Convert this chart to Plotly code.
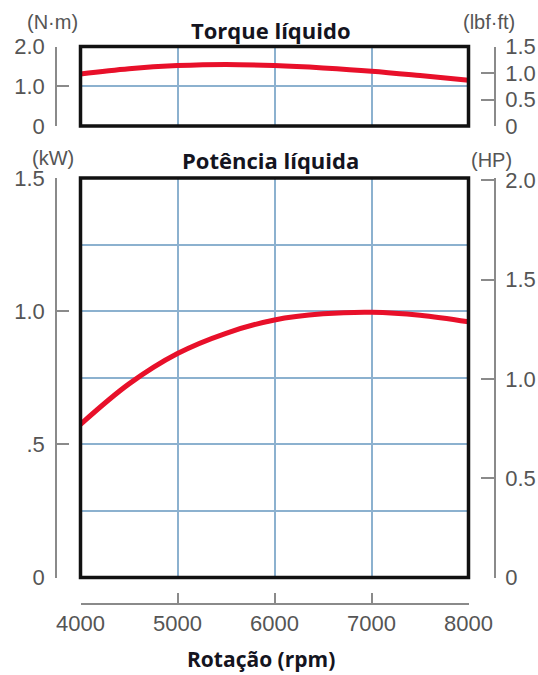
import plotly.graph_objects as go

# ---- data ----
rpm = [4000, 4500, 5000, 5500, 6000, 6500, 7000, 7500, 8000]
power_kw = [0.575, 0.727, 0.841, 0.917, 0.967, 0.990, 0.996, 0.985, 0.960]
torque_nm = [1.31, 1.44, 1.52, 1.55, 1.52, 1.46, 1.38, 1.27, 1.15]

x_ticks = [4000, 5000, 6000, 7000, 8000]
nm_ticks = [0, 1.0, 2.0]
nm_text = ["0", "1.0", "2.0"]
lbf_ticks = [0, 0.5, 1.0, 1.5]
lbf_text = ["0", "0.5", "1.0", "1.5"]
kw_ticks = [0, 0.5, 1.0, 1.5]
kw_text = ["0", ".5", "1.0", "1.5"]
hp_ticks = [0, 0.5, 1.0, 1.5, 2.0]
hp_text = ["0", "0.5", "1.0", "1.5", "2.0"]

NM_PER_LBFFT = 1.3558
KW_PER_HP = 0.7457
torque_lbfft = [v / NM_PER_LBFFT for v in torque_nm]
power_hp = [v / KW_PER_HP for v in power_kw]

W, H = 538, 675
def px(x):
    return x / W
def py(y):
    return 1 - y / H

RED = "#e8102a"
GRID = "#8cb1cf"
BRK = "#8a8a8a"
LBL = "#555555"
TICKFONT = dict(family="Liberation Sans, Arial, sans-serif", size=22, color=LBL)

xdom = [px(80.5), px(468.5)]
top_dom = [py(126), py(46.5)]
bot_dom = [py(577.5), py(178)]

fig = go.Figure()
# invisible traces that carry the bracket (secondary) axes
ghost = dict(color="rgba(0,0,0,0)", width=0)
fig.add_trace(go.Scatter(x=rpm, y=torque_nm, mode="lines", xaxis="x2", yaxis="y3",
                         line=ghost, hoverinfo="skip", showlegend=False))
fig.add_trace(go.Scatter(x=rpm, y=torque_lbfft, mode="lines", xaxis="x2", yaxis="y4",
                         line=ghost, hoverinfo="skip", showlegend=False))
fig.add_trace(go.Scatter(x=rpm, y=power_kw, mode="lines", xaxis="x3", yaxis="y5",
                         line=ghost, hoverinfo="skip", showlegend=False))
fig.add_trace(go.Scatter(x=rpm, y=power_hp, mode="lines", xaxis="x", yaxis="y6",
                         line=ghost, hoverinfo="skip", showlegend=False))
# visible curves
fig.add_trace(go.Scatter(x=rpm, y=power_kw, mode="lines", xaxis="x", yaxis="y",
                         line=dict(color=RED, width=5, shape="spline"), showlegend=False))
fig.add_trace(go.Scatter(x=rpm, y=torque_nm, mode="lines", xaxis="x2", yaxis="y2",
                         line=dict(color=RED, width=5, shape="spline"), showlegend=False))

grid_common = dict(showgrid=True, gridcolor=GRID, gridwidth=1.5, zeroline=False,
                   showticklabels=False, ticks="", showline=False, fixedrange=True,
                   automargin=False)
brk_common = dict(showline=True, linecolor=BRK, linewidth=1.5, ticks="inside",
                  tickcolor=BRK, tickwidth=1.5, showgrid=False, zeroline=False,
                  tickfont=TICKFONT, tickmode="array", fixedrange=True, automargin=False)

fig.update_layout(
    width=W, height=H,
    margin=dict(l=0, r=0, t=0, b=0, autoexpand=False),
    paper_bgcolor="white", plot_bgcolor="white",
    showlegend=False,
    xaxis=dict(domain=xdom, range=[4000, 8000], anchor="y", dtick=1000, **grid_common),
    yaxis=dict(domain=bot_dom, range=[0, 1.5], anchor="x", dtick=0.25, **grid_common),
    xaxis2=dict(domain=xdom, range=[4000, 8000], anchor="y2", dtick=1000, **grid_common),
    yaxis2=dict(domain=top_dom, range=[0, 2.0], anchor="x2", dtick=1.0, **grid_common),
    # bracket axes
    yaxis3=dict(overlaying="y2", anchor="free", position=px(56), side="left",
                range=[0, 2.0], tickvals=nm_ticks, ticktext=nm_text, ticklen=12,
                ticklabelstandoff=6, **brk_common),
    yaxis4=dict(overlaying="y2", anchor="free", position=px(495), side="right",
                range=[0, 1.5], tickvals=lbf_ticks, ticktext=lbf_text, ticklen=13,
                ticklabelstandoff=5, **brk_common),
    yaxis5=dict(overlaying="y", anchor="free", position=px(56), side="left",
                range=[0, 1.5], tickvals=kw_ticks, ticktext=kw_text, ticklen=12,
                ticklabelstandoff=6, **brk_common),
    yaxis6=dict(overlaying="y", anchor="free", position=px(495), side="right",
                range=[0, 1.5 / KW_PER_HP], tickvals=hp_ticks, ticktext=hp_text, ticklen=13,
                ticklabelstandoff=5, **brk_common),
    xaxis3=dict(overlaying="x", anchor="free", position=py(604), side="bottom",
                range=[4000, 8000], tickvals=x_ticks, ticktext=[str(v) for v in x_ticks],
                ticklen=10, ticklabelstandoff=0, **brk_common),
)

# plot frames
for xr, yr in (("x domain", "y domain"), ("x2 domain", "y2 domain")):
    fig.add_shape(type="rect", xref=xr, yref=yr, x0=0, x1=1, y0=0, y1=1,
                  line=dict(color="#111111", width=3.5), layer="above")

TITLEFONT = dict(family="Open Sans, sans-serif", size=22, color="#141420")
XTITLEFONT = dict(family="Open Sans, sans-serif", size=21, color="#141420")
UNITFONT = dict(family="Liberation Sans, Arial, sans-serif", size=20, color=LBL)
ann = [
    ("<b>Torque líquido</b>", 271, 30, TITLEFONT),
    ("<b>Potência líquida</b>", 270, 160, TITLEFONT),
    ("<b>Rotação (rpm)</b>", 261, 659, XTITLEFONT),
    ("(N·m)", 52, 22, UNITFONT),
    ("(lbf·ft)", 489, 22, UNITFONT),
    ("(kW)", 53, 158, UNITFONT),
    ("(HP)", 491, 160, UNITFONT),
]
for text, x, y, f in ann:
    fig.add_annotation(text=text, x=px(x), y=py(y), xref="paper", yref="paper",
                       xanchor="center", yanchor="middle", showarrow=False, font=f)

fig.write_html("out.html")
